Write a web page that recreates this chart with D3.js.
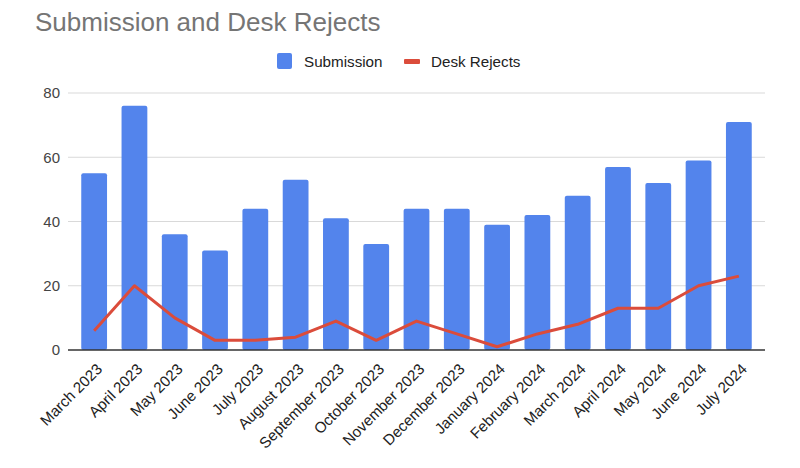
<!DOCTYPE html>
<html>
<head>
<meta charset="utf-8">
<script src="https://cdn.jsdelivr.net/npm/d3@7"></script>
<style>
  body { margin: 0; background: #fff; }
  svg { display: block; font-family: Arial, "Liberation Sans", sans-serif; }
</style>
</head>
<body>
<svg id="chart" width="800" height="468"></svg>
<script>
// data
var months = ["March 2023","April 2023","May 2023","June 2023","July 2023","August 2023",
  "September 2023","October 2023","November 2023","December 2023","January 2024",
  "February 2024","March 2024","April 2024","May 2024","June 2024","July 2024"];
var submissions = [55,76,36,31,44,53,41,33,44,44,39,42,48,57,52,59,71];
var deskRejects = [6,20,10,3,3,4,9,3,9,5,1,5,8,13,13,20,23];
var yTicks = [0,20,40,60,80];

var blue = "#5384ec", red = "#db4c3b";
var svg = d3.select("#chart");
var plotLeft = 68, plotRight = 765, plotTop = 93, plotBottom = 350;

var x = d3.scaleBand().domain(months).range([plotLeft + 6, plotRight - 6]).paddingInner(0.36).paddingOuter(0.18);
var y = d3.scaleLinear().domain([0, 80]).range([plotBottom, plotTop]);

// title
svg.append("text").attr("x", 35).attr("y", 31)
  .attr("font-size", 26).attr("fill", "#757575")
  .text("Submission and Desk Rejects");

// legend
var lg = svg.append("g");
lg.append("rect").attr("x", 277).attr("y", 53).attr("width", 15).attr("height", 16)
  .attr("rx", 2).attr("fill", blue);
lg.append("text").attr("x", 304).attr("y", 67).attr("font-size", 15.2).attr("fill", "#222")
  .text("Submission");
lg.append("rect").attr("x", 404).attr("y", 59).attr("width", 16).attr("height", 5)
  .attr("rx", 1).attr("fill", red);
lg.append("text").attr("x", 431).attr("y", 67).attr("font-size", 15.2).attr("fill", "#222")
  .text("Desk Rejects");

// gridlines
svg.append("g").selectAll("line").data(yTicks.filter(function(d){ return d > 0; }))
  .enter().append("line")
  .attr("x1", plotLeft).attr("x2", plotRight)
  .attr("y1", function(d){ return y(d); }).attr("y2", function(d){ return y(d); })
  .attr("stroke", "#d9d9d9").attr("stroke-width", 1);

// y axis
var yAxis = svg.append("g").attr("transform", "translate(" + (plotLeft - 8) + ",0)")
  .call(d3.axisLeft(y).tickValues(yTicks).tickSize(0).tickPadding(0));
yAxis.select(".domain").remove();
yAxis.selectAll("text").attr("font-size", 15).attr("fill", "#444")
  .attr("font-family", "Arial, 'Liberation Sans', sans-serif");

// bars
svg.append("g").selectAll("rect").data(submissions).enter().append("rect")
  .attr("x", function(d, i){ return x(months[i]); })
  .attr("y", function(d){ return y(d); })
  .attr("width", x.bandwidth())
  .attr("height", function(d){ return plotBottom - y(d); })
  .attr("rx", 2)
  .attr("fill", blue);

// baseline
svg.append("line").attr("x1", plotLeft).attr("x2", plotRight).attr("y1", plotBottom).attr("y2", plotBottom)
  .attr("stroke", "#333").attr("stroke-width", 1.5);

// line
var line = d3.line()
  .x(function(d, i){ return x(months[i]) + x.bandwidth() / 2; })
  .y(function(d){ return y(d); });
svg.append("path").datum(deskRejects)
  .attr("d", line).attr("fill", "none")
  .attr("stroke", red).attr("stroke-width", 3).attr("stroke-linejoin", "round");

// x axis labels
var xAxis = svg.append("g").attr("transform", "translate(0," + plotBottom + ")")
  .call(d3.axisBottom(x).tickSize(0).tickPadding(0));
xAxis.select(".domain").remove();
xAxis.selectAll("text")
  .attr("font-size", 15.2).attr("fill", "#222")
  .attr("font-family", "Arial, 'Liberation Sans', sans-serif")
  .attr("text-anchor", "end")
  .attr("dy", null)
  .attr("transform", "translate(9,20) rotate(-45)");
</script>
</body>
</html>
